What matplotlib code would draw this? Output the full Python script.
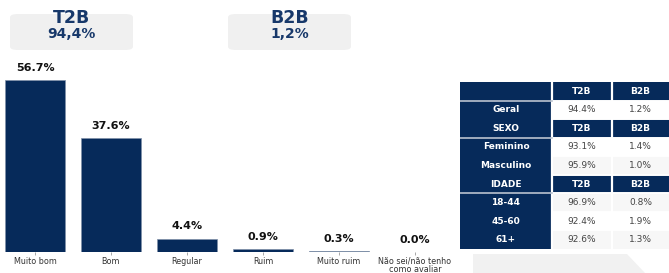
import matplotlib
matplotlib.use("Agg")
import matplotlib.pyplot as plt
from matplotlib.patches import FancyBboxPatch, Polygon

categories = ["Muito bom", "Bom", "Regular", "Ruim", "Muito ruim", "Não sei/não tenho\ncomo avaliar"]
values = [56.7, 37.6, 4.4, 0.9, 0.3, 0.0]

summary_labels = ["T2B", "B2B"]
summary_values = ["94,4%", "1,2%"]

table_cols = ["", "T2B", "B2B"]
table_rows = [
    ["Geral", "94.4%", "1.2%"],
    ["SEXO", "T2B", "B2B"],
    ["Feminino", "93.1%", "1.4%"],
    ["Masculino", "95.9%", "1.0%"],
    ["IDADE", "T2B", "B2B"],
    ["18-44", "96.9%", "0.8%"],
    ["45-60", "92.4%", "1.9%"],
    ["61+", "92.6%", "1.3%"],
]
header_rows = {"SEXO", "IDADE"}

NAVY = "#062a5a"
TITLE = "#17386a"
W, H = 669, 273
fig = plt.figure(figsize=(W / 100, H / 100), dpi=100)

def fx(px):
    return px / W

def fy(py):
    return 1 - py / H

# summary boxes
for i, (lab, val) in enumerate(zip(summary_labels, summary_values)):
    x0 = [10, 228][i]
    box = FancyBboxPatch((fx(x0), fy(50)), fx(123), 36 / H,
                         boxstyle="round,pad=0,rounding_size=0.012",
                         transform=fig.transFigure, facecolor="#f0f0f0",
                         edgecolor="none", zorder=0)
    fig.patches.append(box)
    cx = fx(x0 + 61.5)
    fig.text(cx, fy(18), lab, ha="center", va="center", fontsize=12.5,
             fontweight="bold", color=TITLE)
    fig.text(cx, fy(33.5), val, ha="center", va="center", fontsize=10,
             fontweight="bold", color=TITLE)

# bar chart
ax = fig.add_axes([0, fy(252), fx(452), (252 - 60) / H])
x = list(range(len(categories)))
bars = ax.bar(x, values, width=0.8, color=NAVY, edgecolor="#8090a8", linewidth=0.5)
ax.set_xlim(-35 / 76, (452 - 35) / 76)
ax.set_ylim(0, (252 - 60) / 3.03)
for xi, v in zip(x, values):
    ax.text(xi, v + 2.4, f"{v:.1f}%", ha="center", va="bottom", fontsize=8,
            fontweight="bold", color="#111111")
ax.set_xticks(x)
ax.set_xticklabels(categories, fontsize=5.8, color="#333333", linespacing=0.85)
ax.tick_params(axis="x", length=2, width=0.6, color="#999999", pad=1.5)
ax.set_yticks([])
for s in ax.spines.values():
    s.set_visible(False)

# table
tax = fig.add_axes([fx(460), fy(249), fx(209), (249 - 82) / H])
tax.set_xlim(0, 1)
tax.set_ylim(0, 1)
tax.axis("off")
cell_text = [table_cols] + table_rows
col_w = [92, 60, 57]
tbl = tax.table(cellText=cell_text, bbox=[0, 0, 1, 1], cellLoc="center",
                colWidths=col_w)
tbl.auto_set_font_size(False)
light_rows = {"Masculino", "18-44", "61+"}
n_rows = len(cell_text)
for (r, c), cell in tbl.get_celld().items():
    txt = cell.get_text()
    txt.set_fontsize(6.5)
    row_label = cell_text[r][0]
    is_header = r == 0 or row_label in header_rows
    cell.set_linewidth(0)
    if c == 0 or is_header:
        cell.set_facecolor(NAVY)
        cell.set_edgecolor(NAVY)
        txt.set_color("white")
        txt.set_fontweight("bold")
    else:
        cell.set_facecolor("#f7f7f7" if row_label in light_rows else "white")
        cell.set_edgecolor("white")
        txt.set_color("#444444")

# separator lines of the table
total_w = sum(col_w)
c1 = col_w[0] / total_w
c2 = (col_w[0] + col_w[1]) / total_w
for xb in (c1, c2):
    tax.plot([xb, xb], [0, 1], color="white", lw=1.6, zorder=10)
for r in range(n_rows - 1):
    yb = 1 - (r + 1) / n_rows
    tax.plot([c1, 1], [yb, yb], color="white", lw=1.4, zorder=10)
    label = cell_text[r][0]
    if r == 0 or label in header_rows:
        tax.plot([0, c1], [yb, yb], color="#b9c2cf", lw=1.2, zorder=10)

# decorative grey shape
poly = Polygon([(fx(473), fy(254)), (fx(627), fy(254)), (fx(645), fy(273)),
                (fx(473), fy(273))], closed=True, transform=fig.transFigure,
               facecolor="#f1f1f1", edgecolor="none", zorder=0)
fig.patches.append(poly)

fig.savefig("out.png", dpi=100)
